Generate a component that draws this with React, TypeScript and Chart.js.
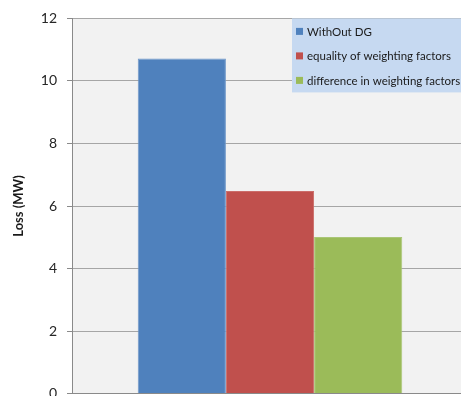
import { useEffect, useRef } from "react";
import { Chart, registerables } from "chart.js";

Chart.register(...registerables);

// Loss comparison for three DG placement strategies
const categories = [""];
const seriesNames = [
  "WithOut DG",
  "equality of weighting factors",
  "difference in weighting factors",
];
const withoutDg = [10.72];
const equalWeights = [6.48];
const differentWeights = [5.01];
const yTickValues = [0, 2, 4, 6, 8, 10, 12];
const yAxisTitle = "Loss (MW)";

const seriesColors = ["#4f81bd", "#c0504d", "#9bbb59"];
const seriesEdges = ["#6f97c9", "#cb6d6a", "#aac677"];

const FONT = "Lato, 'Open Sans', sans-serif";

// Light grey fill behind the plot area
const plotBackground = {
  id: "plotBackground",
  beforeDraw(chart: any) {
    const { ctx, chartArea } = chart;
    ctx.save();
    ctx.fillStyle = "#f2f2f2";
    ctx.fillRect(chartArea.left, chartArea.top, chartArea.right - chartArea.left, chartArea.bottom - chartArea.top);
    ctx.restore();
  },
};

// Legend box laid over the top-right corner of the plot
const overlayLegend = {
  id: "overlayLegend",
  afterDraw(chart: any) {
    const { ctx, chartArea } = chart;
    const x = chartArea.right - 176;
    const y = chartArea.top;
    ctx.save();
    ctx.fillStyle = "#c6d9f1";
    ctx.fillRect(x, y, chart.width - x, 74);
    ctx.font = `11.5px ${FONT}`;
    ctx.textBaseline = "middle";
    ctx.textAlign = "left";
    chart.data.datasets.forEach((ds: any, i: number) => {
      const cy = y + 13 + i * 24.5;
      ctx.fillStyle = ds.backgroundColor;
      ctx.fillRect(x + 4, cy - 3.5, 7, 7);
      ctx.fillStyle = "#1a1a1a";
      ctx.fillText(ds.label, x + 15, cy + 0.5);
    });
    ctx.restore();
  },
};

export default function App() {
  const canvasRef = useRef<HTMLCanvasElement | null>(null);

  useEffect(() => {
    const canvas = canvasRef.current;
    if (!canvas) return;
    const seriesValues = [withoutDg, equalWeights, differentWeights];
    const chart = new Chart(canvas, {
      type: "bar",
      data: {
        labels: categories,
        datasets: seriesNames.map((name, i) => ({
          label: name,
          data: seriesValues[i],
          backgroundColor: seriesColors[i],
          borderColor: seriesEdges[i],
          borderWidth: 1,
          categoryPercentage: 0.668,
          barPercentage: 1,
        })),
      },
      options: {
        responsive: false,
        animation: false,
        devicePixelRatio: 1,
        layout: { padding: { top: 16, bottom: 4, left: 0, right: 0 } },
        plugins: {
          legend: { display: false },
          tooltip: { enabled: false },
        },
        scales: {
          x: { display: false },
          y: {
            min: 0,
            max: 12,
            afterBuildTicks(scale: any) {
              scale.ticks = yTickValues.map((v) => ({ value: v }));
            },
            afterFit(scale: any) {
              scale.width = 72;
            },
            border: { display: true, color: "#8a8a8a", width: 1 },
            grid: {
              color: (c: any) => (c.tick && c.tick.value === 0 ? "#8a8a8a" : "#a6a6a6"),
              tickColor: "#8a8a8a",
              tickLength: 5,
              lineWidth: 1,
            },
            ticks: {
              padding: 10,
              color: "#262626",
              font: { family: FONT, size: 14 },
            },
            title: {
              display: true,
              text: yAxisTitle,
              color: "#1a1a1a",
              font: { family: FONT, size: 13, weight: "bold" },
              padding: { top: 11, bottom: 0 },
            },
          },
        },
      },
      plugins: [plotBackground, overlayLegend],
    });
    return () => chart.destroy();
  }, []);

  return (
    <div
      style={{
        position: "fixed",
        left: 0,
        top: 0,
        width: 461,
        height: 396,
        overflow: "hidden",
        background: "#ffffff",
      }}
    >
      <canvas ref={canvasRef} width={468} height={412} style={{ display: "block" }} />
    </div>
  );
}
